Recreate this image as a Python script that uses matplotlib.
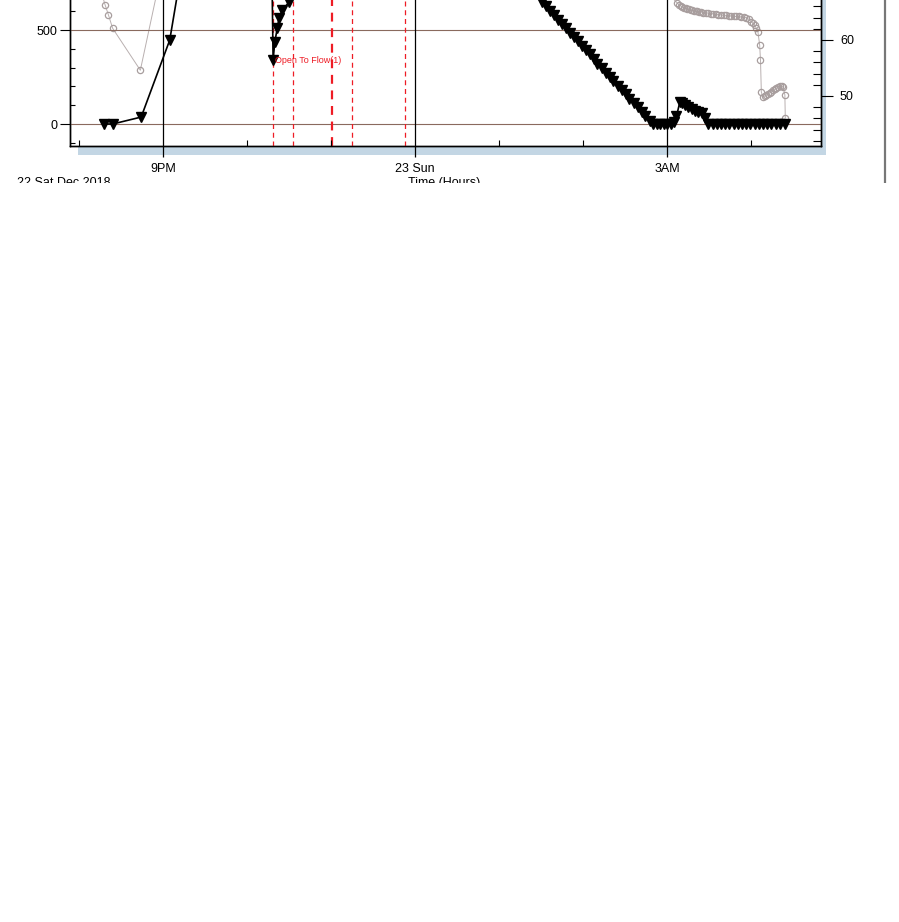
import matplotlib
matplotlib.use("Agg")
import matplotlib.pyplot as plt
from matplotlib.patches import Rectangle
from matplotlib.lines import Line2D
from matplotlib.ticker import FixedLocator, MultipleLocator

plt.rcParams['font.family'] = ['Liberation Sans', 'DejaVu Sans']

# tiempo en horas desde medianoche del 22 (24 = 23 Sun 00:00)
t_rate = [20.30, 20.40, 20.74, 21.08, 21.25, 22.29,
          22.31, 22.33, 22.36, 22.38, 22.42, 22.50, 22.56,
          23.50, 25.40,
          25.51, 25.56, 25.60, 25.65, 25.70, 25.75, 25.79, 25.84, 25.89, 25.94,
          25.98, 26.03, 26.08, 26.13, 26.17, 26.22, 26.27, 26.32, 26.36, 26.41,
          26.46, 26.51, 26.55, 26.60, 26.65, 26.70, 26.74, 26.79,
          26.83, 26.88, 26.92, 26.96, 27.00, 27.05, 27.08, 27.11,
          27.15, 27.18, 27.21, 27.25, 27.29, 27.33, 27.37, 27.41, 27.45, 27.49,
          27.54, 27.59, 27.64, 27.69, 27.74, 27.79, 27.84, 27.89, 27.94, 27.99,
          28.04, 28.09, 28.14, 28.19, 28.24, 28.29, 28.34, 28.40]
rate = [0, 0, 37, 447, 900, 1000,
        340, 436, 511, 564, 606, 649, 720,
        950, 800,
        649, 628, 600, 582, 556, 533, 512, 486, 462, 440,
        416, 392, 370, 344, 322, 298, 272, 250, 228, 204,
        180, 158, 134, 110, 88, 62, 40, 15,
        0, 0, 0, 0, 0, 0, 10, 40,
        117, 112, 100, 92, 78, 70, 64, 58, 32, 0,
        0, 0, 0, 0, 0, 0, 0, 0, 0, 0,
        0, 0, 0, 0, 0, 0, 0, 0]

t_press = [20.20, 20.31, 20.35, 20.40, 20.73, 20.95,
           26.90, 27.12, 27.14, 27.16, 27.18, 27.20, 27.22, 27.24, 27.26, 27.28,
           27.30, 27.32, 27.34, 27.36, 27.38, 27.40, 27.43, 27.46, 27.49, 27.52,
           27.55, 27.58, 27.61, 27.64, 27.67, 27.70, 27.73, 27.76, 27.79, 27.82,
           27.85, 27.88, 27.91, 27.94, 27.97, 28.00, 28.02, 28.04,
           28.06, 28.08, 28.10, 28.11, 28.12, 28.14, 28.16, 28.18, 28.20, 28.22,
           28.24, 28.26, 28.28, 28.30, 28.32, 28.34, 28.36, 28.38, 28.40, 28.405]
press = [72.0, 66.3, 64.5, 62.1, 54.6, 70.0,
         70.0, 66.6, 66.3, 66.1, 65.9, 65.8, 65.7, 65.6, 65.5, 65.4,
         65.3, 65.2, 65.2, 65.1, 65.0, 65.0, 64.9, 64.9, 64.8, 64.7,
         64.7, 64.6, 64.5, 64.5, 64.4, 64.4, 64.3, 64.3, 64.2, 64.2,
         64.2, 64.1, 64.1, 64.0, 63.7, 63.3, 63.0, 62.6,
         62.1, 61.4, 59.1, 56.4, 50.7, 49.8, 50.0, 50.2, 50.4, 50.6,
         50.8, 51.0, 51.2, 51.4, 51.6, 51.8, 51.8, 51.6, 50.2, 46.1]

eventos = [22.31, 22.55, 23.01, 23.25, 23.88]
ev_lw = [0.9, 0.9, 1.6, 0.9, 0.9]

W, H = 899, 922
fig = plt.figure(figsize=(W / 100, H / 100), dpi=100)

# sombra azul detras del area de grafico
fig.patches.append(Rectangle((78 / W, 1 - 155 / H), (826 - 78) / W, 155 / H,
                             transform=fig.transFigure, facecolor='#c3d6e4',
                             edgecolor='none', zorder=-1))

ax = fig.add_axes([70 / W, 1 - 146 / H, (821 - 70) / W, 146 / H])
ax2 = ax.twinx()
ax.set_zorder(2)
ax2.set_zorder(1)
ax.patch.set_visible(False)
ax2.patch.set_visible(True)
ax2.patch.set_facecolor('white')

ax.set_xlim(19.893, 28.83)
ax.set_ylim(-117, 660)
ax2.set_ylim(41.07, 67.14)

for a in (ax, ax2):
    a.spines['top'].set_visible(False)
    for s in ('left', 'right', 'bottom'):
        a.spines[s].set_linewidth(1.0)

# serie gris (eje derecho)
ax2.plot(t_press, press, color='#b9b0b0', lw=0.7, marker='o', ms=4.5,
         mfc='none', mec='#a89e9e', mew=0.9)

# lineas de eventos
for te, lw in zip(eventos, ev_lw):
    ax.axvline(te, color='#ee1c25', lw=lw, ls=(0, (4, 3)), zorder=1)
ax.text(22.33, 340, 'Open To Flow(1)', color='#ee1c25', fontsize=6.5,
        ha='left', va='center', zorder=4)

# serie negra (eje izquierdo)
ax.plot(t_rate, rate, color='black', lw=1.2, marker='v', ms=7, zorder=3)

# rejilla
for yv in (0, 500):
    ax.axhline(yv, color='#8a6a5e', lw=0.8, zorder=0.5)
for xv in (21, 24, 27):
    ax.axvline(xv, color='black', lw=0.9, zorder=0.5)

# ejes
ax.xaxis.set_major_locator(FixedLocator([21, 24, 27]))
ax.set_xticklabels(['9PM', '23 Sun', '3AM'])
ax.xaxis.set_minor_locator(MultipleLocator(1))
ax.tick_params(axis='x', which='major', direction='out', length=8, width=0.9,
               labelsize=9, pad=4)
ax.tick_params(axis='x', which='minor', direction='in', length=4, width=0.8)

ax.yaxis.set_major_locator(FixedLocator([0, 500]))
ax.yaxis.set_minor_locator(MultipleLocator(100))
ax.tick_params(axis='y', which='major', direction='out', length=7, width=0.8,
               labelsize=9, pad=2, colors='black')
ax.tick_params(axis='y', which='minor', direction='in', length=3.6, width=0.8)

ax2.yaxis.set_major_locator(FixedLocator([50, 60]))
ax2.yaxis.set_minor_locator(MultipleLocator(2))
ax2.tick_params(axis='y', which='major', direction='out', length=8.6, width=0.8,
                labelsize=9, pad=5)
ax2.tick_params(axis='y', which='minor', direction='in', length=5.5, width=0.8)

fig.text(17 / W, 1 - 186 / H, '22 Sat Dec 2018', fontsize=9, ha='left', va='baseline')
fig.text(444 / W, 1 - 186 / H, 'Time (Hours)', fontsize=9, ha='center', va='baseline')

fig.lines.append(Line2D([885 / W, 885 / W], [1, 1 - 183 / H], transform=fig.transFigure,
                        color='#777777', lw=1.6))

# la imagen original esta recortada: todo lo de abajo en blanco
fig.patches.append(Rectangle((0, 0), 1, 1 - 183 / H, transform=fig.transFigure,
                             facecolor='white', edgecolor='none', zorder=100))

fig.savefig('out.png', dpi=100)
